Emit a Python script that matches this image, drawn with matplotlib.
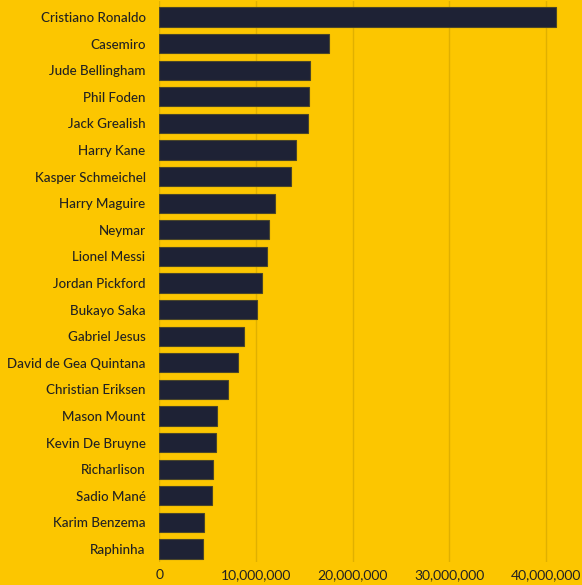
import matplotlib
matplotlib.use("Agg")
import matplotlib.pyplot as plt
from matplotlib.ticker import FuncFormatter

players = [
    "Cristiano Ronaldo", "Casemiro", "Jude Bellingham", "Phil Foden",
    "Jack Grealish", "Harry Kane", "Kasper Schmeichel", "Harry Maguire",
    "Neymar", "Lionel Messi", "Jordan Pickford", "Bukayo Saka",
    "Gabriel Jesus", "David de Gea Quintana", "Christian Eriksen",
    "Mason Mount", "Kevin De Bruyne", "Richarlison", "Sadio Mané",
    "Karim Benzema", "Raphinha",
]
values = [
    41_000_000, 17_500_000, 15_600_000, 15_500_000, 15_400_000,
    14_100_000, 13_600_000, 12_000_000, 11_300_000, 11_100_000,
    10_600_000, 10_100_000, 8_700_000, 8_100_000, 7_100_000,
    6_000_000, 5_900_000, 5_500_000, 5_400_000, 4_600_000, 4_500_000,
]
x_ticks = [0, 10_000_000, 20_000_000, 30_000_000, 40_000_000]

BG = "#FCC600"
BAR = "#1E2235"
TEXT = "#222222"

plt.rcParams["font.family"] = ["Lato", "DejaVu Sans"]

fig = plt.figure(figsize=(5.82, 5.85), dpi=100, facecolor=BG)
ax = fig.add_axes([0.274, 0.0388, 0.714, 0.9595], facecolor=BG)

ypos = list(range(len(players)))
ax.barh(ypos, values, height=0.72, color=BAR, edgecolor="#4a4628",
        linewidth=0.8, zorder=3)

ax.set_yticks(ypos)
ax.set_yticklabels(players, fontsize=9.6, color=TEXT, fontweight="medium")
ax.set_ylim(len(players) - 0.5, -0.6)

ax.set_xlim(0, 43_000_000)
ax.set_xticks(x_ticks)
ax.xaxis.set_major_formatter(FuncFormatter(lambda v, _: f"{int(v):,}"))
ax.tick_params(axis="x", labelsize=10, colors=TEXT, length=0, pad=5)
ax.tick_params(axis="y", length=0, pad=10)

ax.grid(axis="x", color="#E0B000", linewidth=1, zorder=0)
for side in ax.spines.values():
    side.set_visible(False)

fig.savefig("out.png", dpi=100, facecolor=BG)
